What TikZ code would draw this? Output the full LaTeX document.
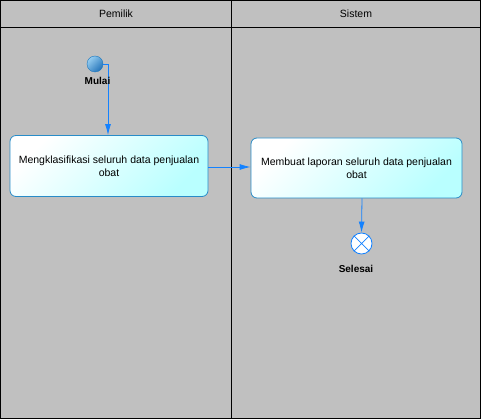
\documentclass[tikz,border=0pt]{standalone}
\usepackage{fontspec}
\setmainfont{Liberation Sans}
\usepackage{tikz}
\usetikzlibrary{shapes.geometric,arrows.meta}
\definecolor{lanegray}{RGB}{192,192,192}
\definecolor{flowblue}{RGB}{20,130,255}
\definecolor{boxedge}{RGB}{40,140,200}
\definecolor{boxcyan}{RGB}{185,255,255}
\definecolor{ballrim}{RGB}{30,120,190}
\definecolor{balllight}{RGB}{150,205,240}
\definecolor{balldark}{RGB}{35,115,185}
\tikzset{>={Latex[width=6pt,length=11pt]}}
\tikzset{
  actbox/.style={shape=rectangle,rounded corners=6pt,draw=boxedge,line width=0.8pt,left color=white,right color=boxcyan,shading angle=45,minimum height=61pt,text width=188pt,align=flush center,font=\fontsize{10.5}{13}\selectfont},
  flow/.style={draw=flowblue,line width=0.8pt,->},
  lbl/.style={font=\bfseries\fontsize{10}{12}\selectfont,inner sep=0pt}
}
\begin{document}
\begin{tikzpicture}[x=1pt,y=-1pt]

\useasboundingbox (0,0) rectangle (481,419);
\fill[lanegray] (0,0) rectangle (481,419);
\draw[line width=0.8pt] (0.5,0.5) rectangle (480.5,418.5);
\draw[line width=0.8pt] (0.5,27) -- (480.5,27);
\draw[line width=0.8pt] (231,0.5) -- (231,418.5);

\path (116,14) node [font=\fontsize{10.5}{12}\selectfont] (pemilik) {Pemilik};
\path (356,14) node [font=\fontsize{10.5}{12}\selectfont] (sistem) {Sistem};

% start / end
\path (95,64) node [shape=circle,minimum size=16pt,inner sep=0pt,draw=ballrim,left color=balllight,right color=balldark,shading angle=45] (mulai) {};
\path (361.5,243.5) node [shape=circle,minimum size=21pt,inner sep=0pt,draw=flowblue,fill=white,line width=0.8pt] (selesai) {};
\draw[flowblue,line width=0.7pt] (selesai.north west) -- (selesai.south east) (selesai.north east) -- (selesai.south west);

% activities
\path (109,166) node [actbox,minimum width=198pt] (klasifikasi) {Mengklasifikasi seluruh data penjualan obat};
\path (356.5,168) node [actbox,minimum width=211pt,minimum height=60pt,text width=202pt] (laporan) {Membuat laporan seluruh data penjualan obat};

\draw[flow] (mulai.east) -| (klasifikasi.north -| 108,0);
\draw[flow] (klasifikasi.east |- 0,167) -- (laporan.west |- 0,167);
\draw[flow] (laporan.south -| 362,0) -- (selesai.north);

\path (97.5,81) node [lbl] (mulaitxt) {Mulai};
\path (356,269) node [lbl] (selesaitxt) {Selesai};

\end{tikzpicture}
\end{document}
